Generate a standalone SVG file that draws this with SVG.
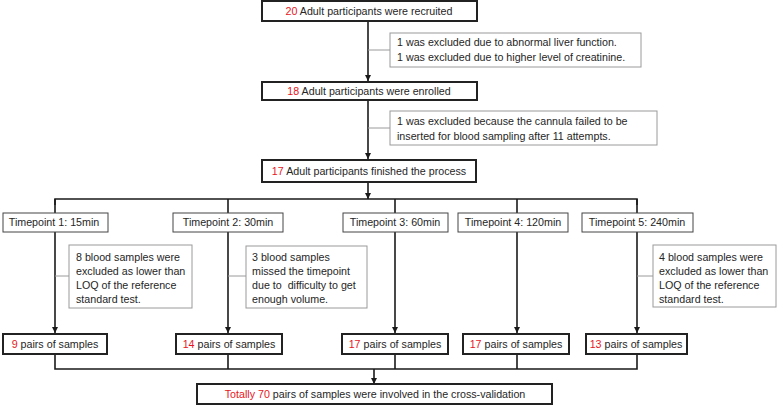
<svg xmlns="http://www.w3.org/2000/svg" width="777" height="406" viewBox="0 0 777 406">
<defs>
<marker id="arr" viewBox="0 0 8 8" refX="8" refY="4" markerWidth="6" markerHeight="6" orient="auto" markerUnits="userSpaceOnUse">
<path d="M0,0 L8,4 L0,8 Z" fill="#1a1a1a"/>
</marker>
<style>
text{font-family:"Liberation Sans",Arial,sans-serif;font-size:10.7px;fill:#262626}
.c{text-anchor:middle}
.r{fill:#e8141b}
.main{fill:#fff;stroke:#222;stroke-width:2}
.tp{fill:#fff;stroke:#444;stroke-width:1}
.ex{fill:#fff;stroke:#9a9a9a;stroke-width:1}
.ln{fill:none;stroke:#1a1a1a;stroke-width:1.6}
.gl{fill:none;stroke:#9a9a9a;stroke-width:1}
</style>
</defs>
<rect width="777" height="406" fill="#fff"/>
<g id="connectors">
<line class="ln" x1="368" y1="21" x2="368" y2="81" marker-end="url(#arr)"/>
<line class="ln" x1="368" y1="99" x2="368" y2="159" marker-end="url(#arr)"/>
<line class="ln" x1="368" y1="182" x2="368" y2="199" marker-end="url(#arr)"/>
<line class="gl" x1="368" y1="50" x2="390" y2="50"/>
<line class="gl" x1="368" y1="128" x2="390" y2="128"/>
<path class="ln" d="M55,205 V199 H637 V205"/>
<line class="ln" x1="55" y1="199" x2="55" y2="333" marker-end="url(#arr)"/>
<line class="ln" x1="228" y1="199" x2="228" y2="333" marker-end="url(#arr)"/>
<line class="ln" x1="395" y1="199" x2="395" y2="333" marker-end="url(#arr)"/>
<line class="ln" x1="517" y1="199" x2="517" y2="333" marker-end="url(#arr)"/>
<line class="ln" x1="637" y1="199" x2="637" y2="333" marker-end="url(#arr)"/>
<line class="gl" x1="55" y1="276" x2="69" y2="276"/>
<line class="gl" x1="228" y1="276" x2="246" y2="276"/>
<line class="gl" x1="637" y1="276" x2="653" y2="276"/>
<path class="ln" d="M55,354 V369 H637 V354 M228,354 V369 M395,354 V369 M517,354 V369"/>
<line class="ln" x1="374" y1="369" x2="374" y2="384" marker-end="url(#arr)"/>
</g>
<g id="recruited">
<rect class="main" x="262" y="1" width="215" height="20"/>
<text class="c" x="369" y="15"><tspan class="r">20</tspan> Adult participants were recruited</text>
</g>
<g id="excl1">
<rect class="ex" x="390" y="33" width="251" height="34"/>
<text x="397" y="46">1 was excluded due to abnormal liver function.</text>
<text x="397" y="61">1 was excluded due to higher level of creatinine.</text>
</g>
<g id="enrolled">
<rect class="main" x="262" y="82" width="215" height="18"/>
<text class="c" x="369" y="95"><tspan class="r">18</tspan> Adult participants were enrolled</text>
</g>
<g id="excl2">
<rect class="ex" x="390" y="111" width="267" height="34"/>
<text x="397" y="125">1 was excluded because the cannula failed to be</text>
<text x="397" y="140">inserted for blood sampling after 11 attempts.</text>
</g>
<g id="finished">
<rect class="main" x="262" y="160" width="214" height="22"/>
<text class="c" x="369" y="175"><tspan class="r">17</tspan> Adult participants finished the process</text>
</g>
<g id="tp1">
<rect class="tp" x="3" y="213" width="105" height="19"/>
<text class="c" x="54" y="226">Timepoint 1: 15min</text>
</g>
<g id="tp2">
<rect class="tp" x="173" y="213" width="110" height="19"/>
<text class="c" x="228" y="226">Timepoint 2: 30min</text>
</g>
<g id="tp3">
<rect class="tp" x="343" y="213" width="105" height="19"/>
<text class="c" x="395" y="226">Timepoint 3: 60min</text>
</g>
<g id="tp4">
<rect class="tp" x="458" y="213" width="110" height="19"/>
<text class="c" x="513" y="226">Timepoint 4: 120min</text>
</g>
<g id="tp5">
<rect class="tp" x="582" y="213" width="111" height="19"/>
<text class="c" x="637" y="226">Timepoint 5: 240min</text>
</g>
<g id="excl-tp1">
<rect class="ex" x="69" y="245" width="123" height="63"/>
<text x="76" y="261">8 blood samples were</text>
<text x="76" y="275">excluded as lower than</text>
<text x="76" y="289">LOQ of the reference</text>
<text x="76" y="303">standard test.</text>
</g>
<g id="excl-tp2">
<rect class="ex" x="246" y="246" width="121" height="62"/>
<text x="252" y="261">3 blood samples</text>
<text x="252" y="275">missed the timepoint</text>
<text x="252" y="289">due to&#160; difficulty to get</text>
<text x="252" y="303">enough volume.</text>
</g>
<g id="excl-tp5">
<rect class="ex" x="653" y="245" width="123" height="62"/>
<text x="659" y="261">4 blood samples were</text>
<text x="659" y="275">excluded as lower than</text>
<text x="659" y="289">LOQ of the reference</text>
<text x="659" y="303">standard test.</text>
</g>
<g id="pairs1">
<rect class="main" x="3" y="334" width="104" height="20"/>
<text class="c" x="55" y="348"><tspan class="r">9</tspan> pairs of samples</text>
</g>
<g id="pairs2">
<rect class="main" x="176" y="334" width="106" height="20"/>
<text class="c" x="229" y="348"><tspan class="r">14</tspan> pairs of samples</text>
</g>
<g id="pairs3">
<rect class="main" x="342" y="334" width="106" height="20"/>
<text class="c" x="395" y="348"><tspan class="r">17</tspan> pairs of samples</text>
</g>
<g id="pairs4">
<rect class="main" x="463" y="334" width="106" height="20"/>
<text class="c" x="516" y="348"><tspan class="r">17</tspan> pairs of samples</text>
</g>
<g id="pairs5">
<rect class="main" x="586" y="334" width="101" height="20"/>
<text class="c" x="636" y="348"><tspan class="r">13</tspan> pairs of samples</text>
</g>
<g id="total">
<rect class="main" x="197" y="384" width="355" height="20"/>
<text class="c" x="375" y="398"><tspan class="r">Totally 70</tspan> pairs of samples were involved in the cross-validation</text>
</g>
</svg>
